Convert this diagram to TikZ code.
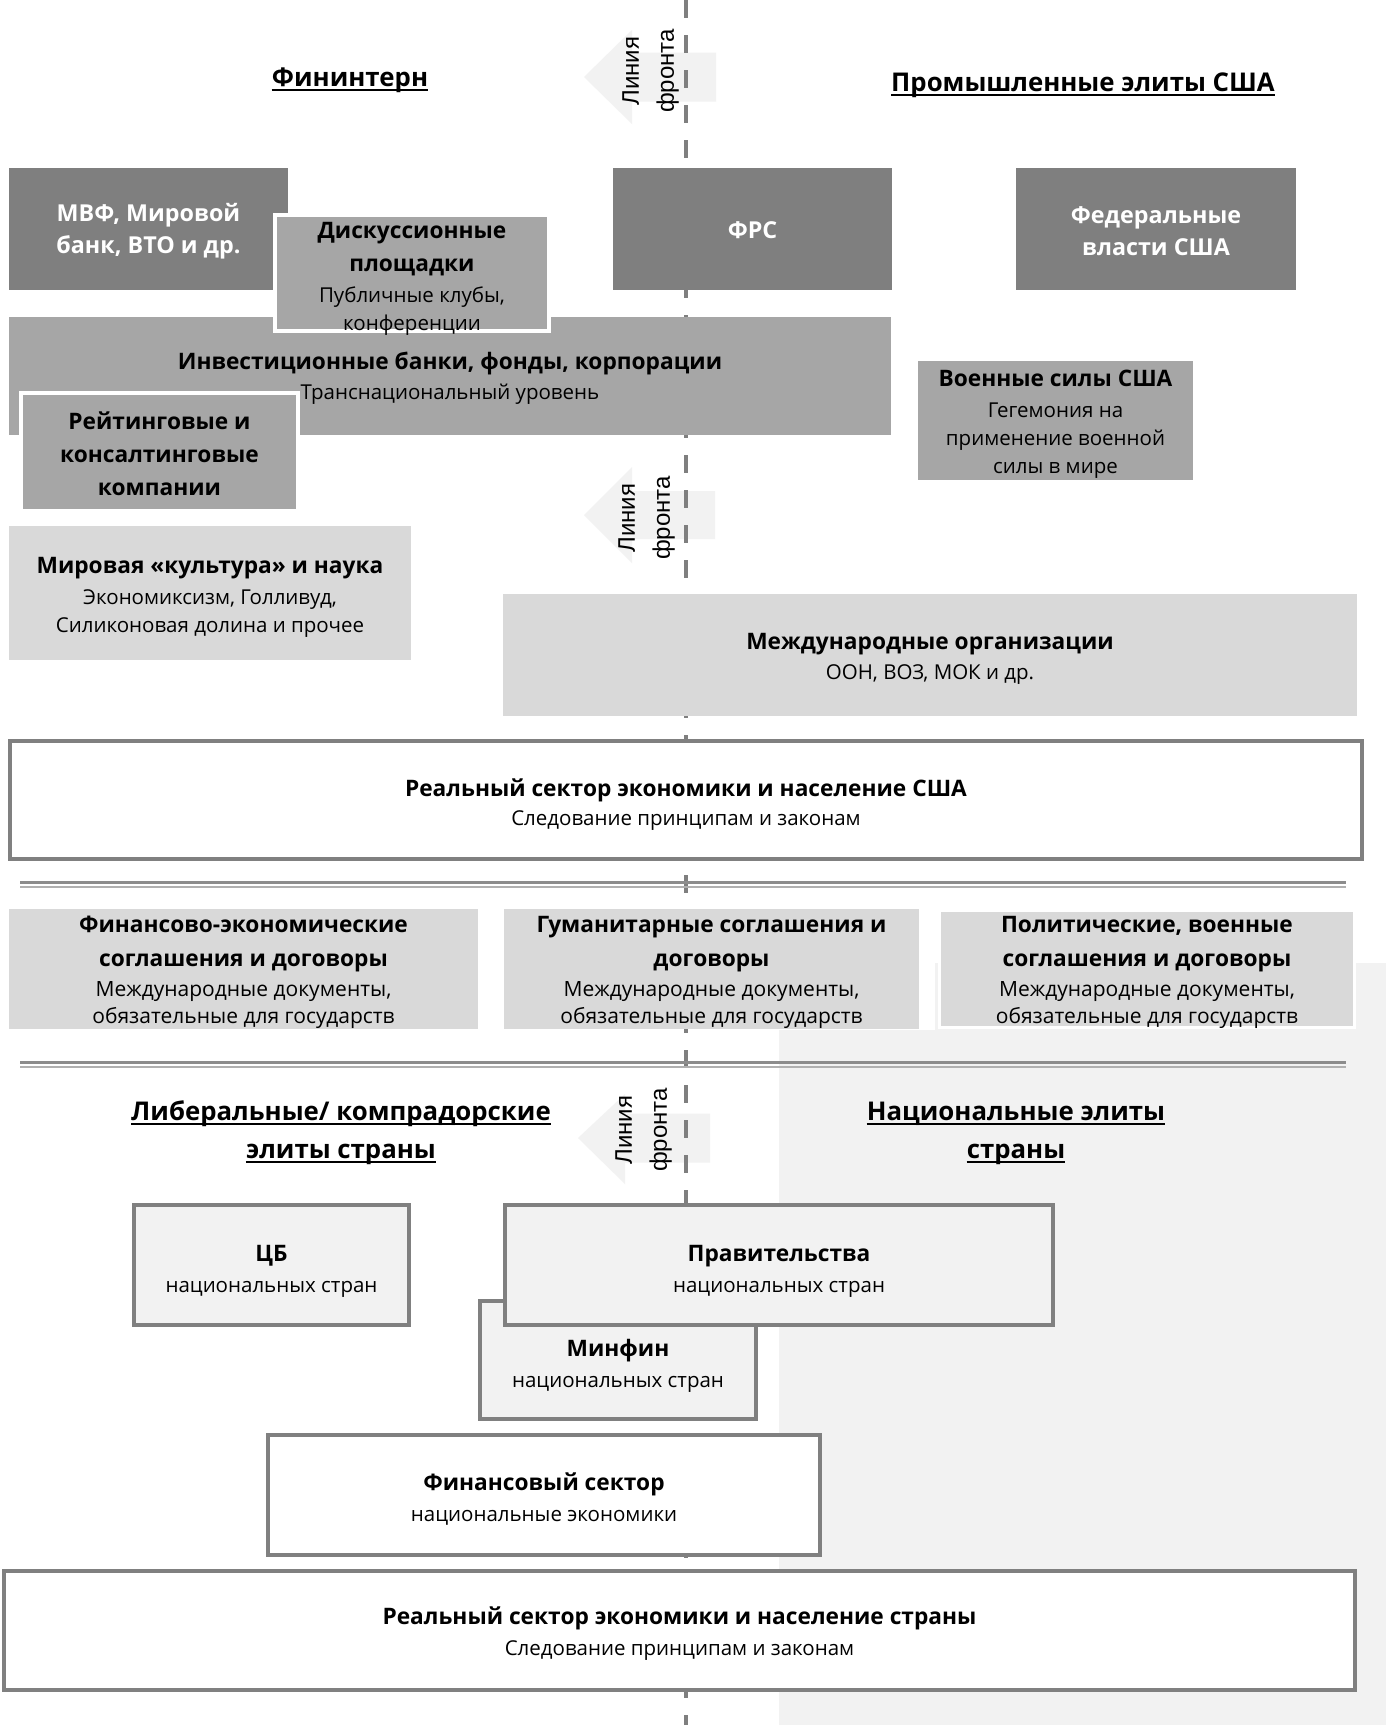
\documentclass[tikz,border=0pt]{standalone}
\usepackage{fontspec}
\setmainfont{Open Sans}
\newfontfamily\arrowfont{Liberation Sans}
\definecolor{cdark}{HTML}{7F7F7F}
\definecolor{cmid}{HTML}{A6A6A6}
\definecolor{clight}{HTML}{D9D9D9}
\definecolor{cpale}{HTML}{F2F2F2}
\definecolor{cbord}{HTML}{808080}
\definecolor{cline}{HTML}{7F7F7F}
\definecolor{cdblA}{HTML}{8C8C8C}
\definecolor{cdblB}{HTML}{B0B0B0}
\newcommand\fB{\fontsize{22.7}{33}\selectfont\bfseries}
\newcommand\fR{\fontsize{20.5}{28}\selectfont\mdseries}
\newcommand\fRa{\fontsize{21}{27.5}\selectfont\mdseries}
\newcommand\fW{\fontsize{23.3}{32}\selectfont\bfseries}
\newcommand\fT{\fontsize{25.8}{38}\selectfont\bfseries}
\begin{document}
\begin{tikzpicture}[x=1pt,y=-1pt,
  bx/.style={rectangle, inner sep=0pt, outer sep=0pt, anchor=north west},
  tx/.style={inner sep=0pt, align=center, font=\fR},
  darkbox/.style={bx, fill=cdark},
  midbox/.style={bx, fill=cmid},
  lightbox/.style={bx, fill=clight},
  framebox/.style={bx, draw=cbord, line width=3.5pt},
  whiteedge/.style={draw=white, line width=3.5pt},
  wtx/.style={tx, text=white, font=\fW},
  atx/.style={tx, font=\fRa},
  title/.style={inner sep=0pt, anchor=base, font=\fT},
  uline/.style={line width=2pt},
  arrowshape/.style={fill=cpale, draw=none},
  arrowtext/.style={rotate=90, align=center, inner sep=0pt, font=\arrowfont\fontsize{24}{35}\selectfont},
  frontline/.style={draw=cline, line width=4.5pt, dash pattern=on 18pt off 17pt},
  dblA/.style={draw=cdblA, line width=3pt},
  dblB/.style={draw=cdblB, line width=2pt},
]
% canvas
\fill[white] (0,0) rectangle (1386,1725);
\useasboundingbox (0,0) rectangle (1386,1725);
% pale background area (national elites)
\fill[cpale] (935,963) rectangle (1386,1725);
\fill[cpale] (779,1030) rectangle (1386,1725);

% front arrows
\fill[arrowshape] (584,77) -- (632,30) -- (632,52.5) -- (716,52.5) -- (716,101.5) -- (632,101.5) -- (632,124) -- cycle;
\fill[arrowshape] (584,515) -- (632,467) -- (632,491) -- (715,491) -- (715,539) -- (632,539) -- (632,563) -- cycle;
\fill[arrowshape] (578,1138) -- (625,1094) -- (625,1113.5) -- (710,1113.5) -- (710,1162.5) -- (625,1162.5) -- (625,1184) -- cycle;

% front line
\coordinate (ltop) at (686,0);
\coordinate (lbot) at (686,1725);
\draw[frontline] (ltop) -- (lbot);

\node[arrowtext] (fr1) at (650.5,71) {Линия\\фронта};
\node[arrowtext] (fr2) at (646.5,518) {Линия\\фронта};
\node[arrowtext] (fr3) at (643.5,1130) {Линия\\фронта};

% titles
\node[title] (t1) at (350,86) {Фининтерн};
\node[title] (t2) at (1083,91) {Промышленные элиты\ США};
\draw[uline] ([yshift=-4pt]t1.base west) -- ([yshift=-4pt]t1.base east);
\draw[uline] ([yshift=-4pt]t2.base west) -- ([yshift=-4pt]t2.base east);

% top boxes
\node[darkbox, minimum width=279pt, minimum height=122pt] (mvf) at (9,168) {};
\node[wtx, yshift=-2pt] (mvfT) at (mvf.center) {МВФ, Мировой\\банк, ВТО и др.};
\node[darkbox, minimum width=279pt, minimum height=122pt] (frs) at (613,168) {};
\node[wtx, yshift=-1pt] (frsT) at (frs.center) {ФРС};
\node[darkbox, minimum width=280pt, minimum height=122pt] (fed) at (1016,168) {};
\node[wtx, yshift=-2pt] (fedT) at (fed.center) {Федеральные\\власти США};

\node[midbox, minimum width=882pt, minimum height=118pt] (inv) at (9,317) {};
\node[tx, yshift=-2pt] (invT) at (inv.center)
  {\fB Инвестиционные банки, фонды, корпорации\\[2pt]Транснациональный уровень};
\node[midbox, whiteedge, minimum width=274pt, minimum height=116pt] (disc) at (275,215) {};
\node[tx, yshift=-5.5pt] (discT) at (disc.center)
  {\fB Дискуссионные\\[5pt]\fB площадки\\[3pt]Публичные клубы,\\конференции};
\node[midbox, whiteedge, minimum width=277pt, minimum height=118pt] (rat) at (21,393) {};
\node[tx, yshift=-2pt] (ratT) at (rat.center)
  {\fB Рейтинговые и\\[5pt]\fB консалтинговые\\[5pt]\fB компании};
\node[midbox, minimum width=275pt, minimum height=119pt] (mil) at (918,361) {};
\node[tx, yshift=-3.3pt] (milT) at (mil.center)
  {\fB Военные силы США\\[3pt]Гегемония на\\применение военной\\силы в мире};

\node[lightbox, minimum width=402pt, minimum height=134pt] (cult) at (9,526) {};
\node[tx, yshift=-4.4pt] (cultT) at (cult.center)
  {\fB Мировая «культура» и наука\\[3pt]Экономиксизм, Голливуд,\\Силиконовая долина и прочее};
\node[lightbox, minimum width=854pt, minimum height=122pt] (intl) at (503,594) {};
\node[tx, yshift=-3.5pt] (intlT) at (intl.center)
  {\fB Международные организации\\[2pt]ООН, ВОЗ, МОК и др.};

\node[framebox, fill=white, minimum width=1352pt, minimum height=118pt] (rusa) at (10,741) {};
\node[tx, yshift=-4.4pt] (rusaT) at (rusa.center)
  {\fB Реальный сектор экономики и население США\\[1pt]Следование принципам и законам};

% double lines
\coordinate (d1l) at (20,882);  \coordinate (d1r) at (1346,882);
\coordinate (d2l) at (20,887);  \coordinate (d2r) at (1346,887);
\draw[dblA] (d1l) -- (d1r);
\draw[dblB] (d2l) -- (d2r);

% agreements
\node[lightbox, minimum width=469pt, minimum height=120pt] (ag1) at (9,909) {};
\node[atx, yshift=-3.3pt] (ag1T) at (ag1.center)
  {\fB Финансово-экономические\\[6.5pt]\fB соглашения и договоры\\[2.5pt]Международные документы,\\обязательные для государств};
\node[lightbox, minimum width=415pt, minimum height=120pt] (ag2) at (504,909) {};
\node[atx, yshift=-3.3pt] (ag2T) at (ag2.center)
  {\fB Гуманитарные соглашения и\\[6.5pt]\fB договоры\\[2.5pt]Международные документы,\\обязательные для государств};
\node[lightbox, whiteedge, minimum width=415pt, minimum height=117pt] (ag3) at (939.5,910.5) {};
\node[atx, yshift=-3.3pt] (ag3T) at (ag3.center)
  {\fB Политические, военные\\[6.5pt]\fB соглашения и договоры\\[2.5pt]Международные документы,\\обязательные для государств};

\coordinate (e1l) at (20,1062);  \coordinate (e1r) at (1346,1062);
\coordinate (e2l) at (20,1067);  \coordinate (e2r) at (1346,1067);
\draw[dblA] (e1l) -- (e1r);
\draw[dblB] (e2l) -- (e2r);

% lower titles
\node[title] (t3a) at (341,1120) {Либеральные/\ компрадорские};
\node[title] (t3b) at (341,1158) {элиты\ страны};
\node[title] (t4a) at (1016,1120) {Национальные\ элиты};
\node[title] (t4b) at (1016,1158) {страны};
\foreach \n in {t3a,t3b,t4a,t4b}
  \draw[uline] ([yshift=-4pt]\n.base west) -- ([yshift=-4pt]\n.base east);

% national boxes
\node[framebox, fill=cpale, minimum width=275pt, minimum height=120pt] (cb) at (134,1205) {};
\node[tx, yshift=-6pt] (cbT) at (cb.center) {\fB ЦБ\\[3pt]национальных стран};
\node[framebox, fill=cpale, minimum width=276pt, minimum height=118pt] (minfin) at (480,1301) {};
\node[tx, yshift=-5.5pt] (minfinT) at (minfin.center) {\fB Минфин\\[3pt]национальных стран};
\node[framebox, fill=cpale, minimum width=548pt, minimum height=120pt] (gov) at (505,1205) {};
\node[tx, yshift=-6pt] (govT) at (gov.center) {\fB Правительства\\[3pt]национальных стран};
\node[framebox, fill=white, minimum width=552pt, minimum height=120pt] (fin) at (268,1435) {};
\node[tx, yshift=-4.4pt] (finT) at (fin.center) {\fB Финансовый сектор\\[3pt]национальные экономики};
\node[framebox, fill=white, minimum width=1351pt, minimum height=119pt] (rc) at (4,1571) {};
\node[tx, yshift=-3.3pt] (rcT) at (rc.center)
  {\fB Реальный сектор экономики и население страны\\[3pt]Следование принципам и законам};
\end{tikzpicture}
\end{document}
